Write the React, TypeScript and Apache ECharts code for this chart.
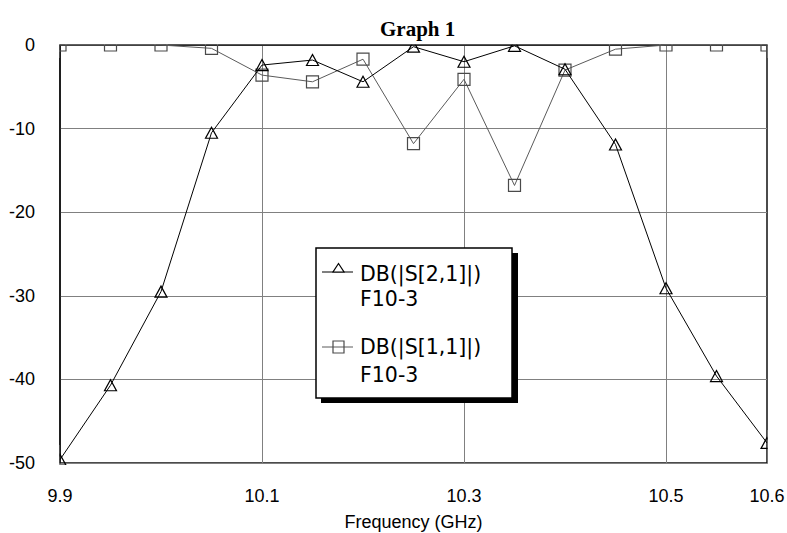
import React, { useEffect, useRef } from "react";
import * as echarts from "echarts";

// ---- data ----
const frequencies = [9.9, 9.95, 10.0, 10.05, 10.1, 10.15, 10.2, 10.25, 10.3, 10.35, 10.4, 10.45, 10.5, 10.55, 10.6];
const s21Values = [-49.6, -40.7, -29.5, -10.5, -2.4, -1.8, -4.4, -0.2, -2.0, -0.1, -2.9, -11.9, -29.1, -39.6, -47.6];
const s11Values = [0, 0, 0, -0.4, -3.6, -4.4, -1.7, -11.8, -4.1, -16.8, -3.0, -0.5, 0, 0, 0];
const xTickLabels = [9.9, 10.1, 10.3, 10.5, 10.6];
const xGridValues = [10.1, 10.3, 10.5];
const yMin = -50;
const yMax = 0;
const yStep = 10;
const seriesNames = ["DB(|S[2,1]|)", "DB(|S[1,1]|)"];
const seriesSource = "F10-3";
const chartTitle = "Graph 1";
const xAxisTitle = "Frequency (GHz)";

const s21Data = frequencies.map((f, i) => [f, s21Values[i]]);
const s11Data = frequencies.map((f, i) => [f, s11Values[i]]);

const SANS = "'Liberation Sans', Arial, sans-serif";
const LEGEND_FONT = "'DejaVu Sans', sans-serif";

export default function App() {
  const ref = useRef<HTMLDivElement>(null);

  useEffect(() => {
    document.body.style.margin = "0";
    if (!ref.current) return;
    const chart = echarts.init(ref.current, null, { renderer: "svg" });
    const legendText = (x: number, y: number, text: string) => ({
      type: "text",
      x,
      y,
      z: 120,
      style: {
        text,
        fontFamily: LEGEND_FONT,
        fontSize: 20.5,
        fill: "#000",
        verticalAlign: "middle",
        align: "left",
      },
    });
    chart.setOption({
      animation: false,
      backgroundColor: "#fff",
      title: {
        text: chartTitle,
        left: 375,
        top: 13,
        z: 200,
        textStyle: {
          fontFamily: "'Liberation Serif', 'Times New Roman', serif",
          fontWeight: "bold",
          fontSize: 21,
          color: "#000",
        },
      },
      grid: {
        left: 60,
        right: 20,
        top: 45,
        bottom: 70,
        show: true,
        backgroundColor: "#fff",
        borderColor: "#111",
        borderWidth: 1.5,
        outerBoundsMode: "none",
        containLabel: false,
      },
      xAxis: {
        type: "value",
        min: 9.9,
        max: 10.6,
        name: xAxisTitle,
        nameLocation: "middle",
        nameGap: 50,
        nameTextStyle: { fontFamily: SANS, fontSize: 18, color: "#000" },
        axisLine: { show: true, lineStyle: { color: "#111", width: 1.5 } },
        axisTick: { show: false, customValues: xGridValues },
        axisLabel: {
          customValues: xTickLabels,
          margin: 24,
          fontFamily: SANS,
          fontSize: 18,
          color: "#000",
          formatter: (v: number) => v.toFixed(1),
        },
        splitLine: { show: true, lineStyle: { color: "#808080", width: 1 } },
      },
      yAxis: {
        type: "value",
        min: yMin,
        max: yMax,
        interval: yStep,
        axisLine: { show: true, lineStyle: { color: "#111", width: 1.5 } },
        axisTick: { show: false },
        axisLabel: {
          margin: 25,
          fontFamily: SANS,
          fontSize: 18,
          color: "#000",
          padding: [7, 0, 0, 0],
        },
        splitLine: { show: true, lineStyle: { color: "#808080", width: 1 } },
      },
      series: [
        {
          name: seriesNames[0],
          type: "line",
          data: s21Data,
          symbol: "triangle",
          symbolSize: [12, 11],
          showSymbol: true,
          clip: true,
          lineStyle: { color: "#000", width: 1 },
          itemStyle: { color: "rgba(0,0,0,0)", borderColor: "#000", borderWidth: 1.2 },
          z: 4,
        },
        {
          name: seriesNames[1],
          type: "line",
          data: s11Data,
          symbol: "rect",
          symbolSize: 12,
          showSymbol: true,
          clip: true,
          lineStyle: { color: "#5a5a5a", width: 1 },
          itemStyle: { color: "rgba(0,0,0,0)", borderColor: "#4a4a4a", borderWidth: 1.2 },
          z: 3,
        },
      ],
      graphic: [
        // masks that hide marker parts outside the plot frame
        { type: "rect", z: 100, silent: true, shape: { x: 40, y: 0, width: 747, height: 44.2 }, style: { fill: "#fff" } },
        { type: "rect", z: 100, silent: true, shape: { x: 40, y: 36, width: 19.2, height: 22 }, style: { fill: "#fff" } },
        { type: "rect", z: 100, silent: true, shape: { x: 767.8, y: 36, width: 19.2, height: 22 }, style: { fill: "#fff" } },
        { type: "rect", z: 100, silent: true, shape: { x: 40, y: 445, width: 19.2, height: 30 }, style: { fill: "#fff" } },
        { type: "rect", z: 100, silent: true, shape: { x: 40, y: 465, width: 60, height: 11 }, style: { fill: "#fff" } },
        { type: "rect", z: 100, silent: true, shape: { x: 767.8, y: 430, width: 19.2, height: 40 }, style: { fill: "#fff" } },
        // legend box with drop shadow
        { type: "rect", z: 110, shape: { x: 321, y: 253, width: 197, height: 150 }, style: { fill: "#000" } },
        { type: "rect", z: 111, shape: { x: 316, y: 248, width: 196, height: 150 }, style: { fill: "#fff", stroke: "#000", lineWidth: 1.5 } },
        { type: "line", z: 112, shape: { x1: 322, y1: 272, x2: 353, y2: 272 }, style: { stroke: "#000", lineWidth: 1 } },
        { type: "polygon", z: 113, shape: { points: [[338.5, 263.5], [333, 272], [344, 272]] }, style: { fill: "#fff", stroke: "#000", lineWidth: 1.2 } },
        { type: "line", z: 112, shape: { x1: 322, y1: 347, x2: 353, y2: 347 }, style: { stroke: "#5a5a5a", lineWidth: 1 } },
        { type: "rect", z: 113, shape: { x: 333, y: 341, width: 11, height: 12 }, style: { fill: "rgba(0,0,0,0)", stroke: "#4a4a4a", lineWidth: 1.2 } },
        legendText(360, 274, seriesNames[0]),
        legendText(360, 299, seriesSource),
        legendText(360, 347, seriesNames[1]),
        legendText(360, 375, seriesSource),
      ],
    });
    return () => chart.dispose();
  }, []);

  return <div ref={ref} style={{ width: 787, height: 533 }} />;
}
